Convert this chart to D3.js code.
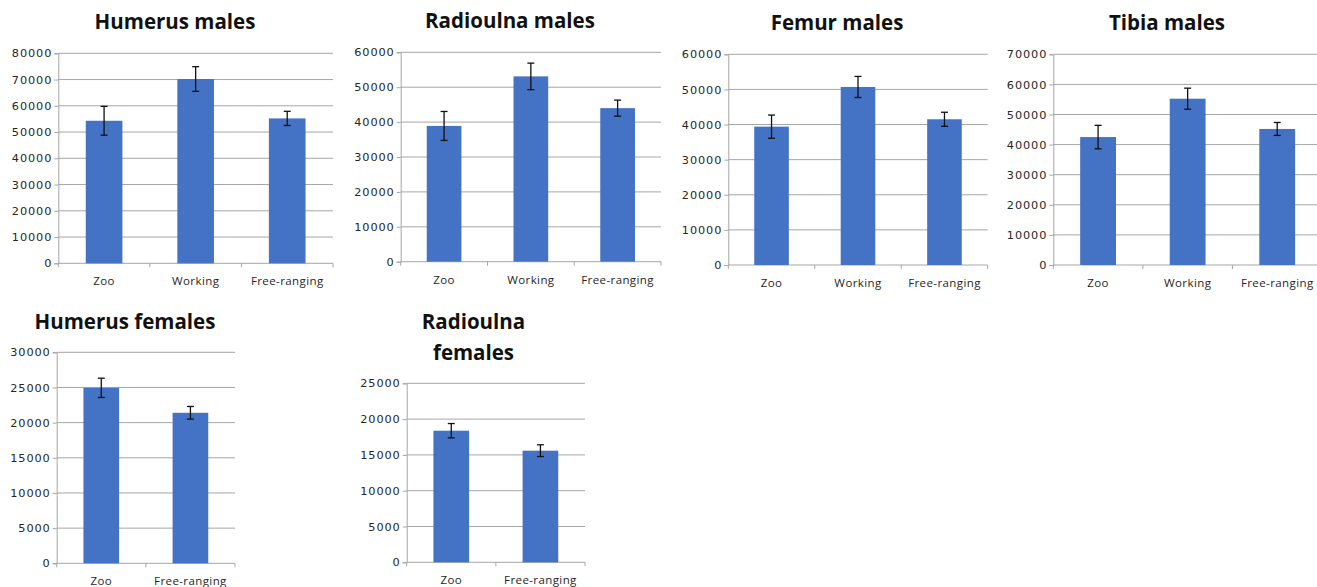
<!DOCTYPE html>
<html>
<head>
<meta charset="utf-8">
<script src="https://cdn.jsdelivr.net/npm/d3@7/dist/d3.min.js"></script>
<style>
  body { margin: 0; background: #fff; }
  .ytick { font-family: "DejaVu Sans", sans-serif; font-size: 11.3px; letter-spacing: 0.9px; fill: #262626; }
  .xtick { font-family: "Open Sans", sans-serif; font-size: 11.5px; letter-spacing: 0.4px; fill: #262626; }
  .title { font-family: "Open Sans", sans-serif; font-weight: bold; font-size: 20.5px; fill: #111; }
</style>
</head>
<body>
<div id="chart"></div>
<script>
// categories
const catMales = ["Zoo", "Working", "Free-ranging"];
const catFemales = ["Zoo", "Free-ranging"];

// means and error (+/-)
const humerusMales = [54300, 70200, 55200];
const humerusMalesErr = [5500, 4700, 2700];
const radioulnaMales = [38900, 53100, 44000];
const radioulnaMalesErr = [4150, 3800, 2300];
const femurMales = [39400, 50700, 41500];
const femurMalesErr = [3300, 3000, 2000];
const tibiaMales = [42500, 55250, 45200];
const tibiaMalesErr = [3900, 3500, 2150];
const humerusFemales = [24950, 21400];
const humerusFemalesErr = [1370, 900];
const radioulnaFemales = [18380, 15590];
const radioulnaFemalesErr = [1000, 820];

// y axis ticks
const ticks80 = d3.range(0, 80001, 10000);
const ticks60 = d3.range(0, 60001, 10000);
const ticks70 = d3.range(0, 70001, 10000);
const ticks30 = d3.range(0, 30001, 5000);
const ticks25 = d3.range(0, 25001, 5000);

const width = 1317, height = 587;

const svg = d3.select("#chart").append("svg")
  .attr("width", width)
  .attr("height", height);

// one entry per small chart
const panels = [
  { title: ["Humerus males"], cats: catMales, vals: humerusMales, err: humerusMalesErr, ticks: ticks80,
    x0: 58.3, x1: 333, y0: 263.3, y1: 53.3, tx: 175, ty: 21 },
  { title: ["Radioulna males"], cats: catMales, vals: radioulnaMales, err: radioulnaMalesErr, ticks: ticks60,
    x0: 400.7, x1: 661, y0: 261.7, y1: 52.3, tx: 510, ty: 20 },
  { title: ["Femur males"], cats: catMales, vals: femurMales, err: femurMalesErr, ticks: ticks60,
    x0: 728.3, x1: 987.7, y0: 265, y1: 54.3, tx: 837, ty: 22 },
  { title: ["Tibia males"], cats: catMales, vals: tibiaMales, err: tibiaMalesErr, ticks: ticks70,
    x0: 1053.3, x1: 1322, y0: 265, y1: 54.3, tx: 1167, ty: 22 },
  { title: ["Humerus females"], cats: catFemales, vals: humerusFemales, err: humerusFemalesErr, ticks: ticks30,
    x0: 56.7, x1: 235, y0: 563.3, y1: 352.3, tx: 125, ty: 320.5 },
  { title: ["Radioulna", "females"], cats: catFemales, vals: radioulnaFemales, err: radioulnaFemalesErr, ticks: ticks25,
    x0: 406.7, x1: 585, y0: 562.3, y1: 383.3, tx: 473.5, ty: 320.5 }
];

panels.forEach(function(p) {
  const g = svg.append("g");

  const x = d3.scaleBand()
    .domain(p.cats)
    .range([p.x0, p.x1])
    .paddingInner(0.6)
    .paddingOuter(0.3);

  const y = d3.scaleLinear()
    .domain([0, d3.max(p.ticks)])
    .range([p.y0, p.y1]);

  // grid lines
  g.append("g").selectAll("line")
    .data(p.ticks.slice(1))
    .join("line")
    .attr("x1", p.x0).attr("x2", p.x1)
    .attr("y1", d => y(d)).attr("y2", d => y(d))
    .attr("stroke", "#a6a6a6")
    .attr("stroke-width", 1);

  // y axis
  const yAxis = g.append("g")
    .attr("transform", "translate(" + p.x0 + ",0)")
    .call(d3.axisLeft(y).tickValues(p.ticks).tickSize(4).tickPadding(2).tickFormat(d3.format("d")));
  yAxis.select(".domain").attr("stroke", "#a6a6a6");
  yAxis.selectAll(".tick line").attr("stroke", "#a6a6a6");
  yAxis.selectAll(".tick text").attr("class", "ytick").attr("fill", null);
  yAxis.attr("font-size", null).attr("font-family", null);

  // x axis line + ticks between categories
  const step = x.step();
  const bounds = d3.range(p.cats.length + 1).map(i => p.x0 + i * step);
  g.append("line")
    .attr("x1", p.x0).attr("x2", p.x1)
    .attr("y1", p.y0).attr("y2", p.y0)
    .attr("stroke", "#a6a6a6");
  g.append("g").selectAll("line")
    .data(bounds)
    .join("line")
    .attr("x1", d => d).attr("x2", d => d)
    .attr("y1", p.y0).attr("y2", p.y0 + 4)
    .attr("stroke", "#a6a6a6");

  // category labels
  g.append("g").selectAll("text")
    .data(p.cats)
    .join("text")
    .attr("class", "xtick")
    .attr("x", d => x(d) + x.bandwidth() / 2)
    .attr("y", p.y0 + 22)
    .attr("text-anchor", "middle")
    .text(d => d);

  // bars
  g.append("g").selectAll("rect")
    .data(p.vals)
    .join("rect")
    .attr("x", (d, i) => x(p.cats[i]))
    .attr("width", x.bandwidth())
    .attr("y", d => y(d))
    .attr("height", d => p.y0 - y(d))
    .attr("fill", "#4472c4");

  // error bars
  const eb = g.append("g").attr("stroke", "#111").attr("stroke-width", 1.3);
  p.vals.forEach(function(v, i) {
    const cx = x(p.cats[i]) + x.bandwidth() / 2;
    const top = y(v + p.err[i]), bot = y(v - p.err[i]);
    eb.append("line").attr("x1", cx).attr("x2", cx).attr("y1", top).attr("y2", bot);
    eb.append("line").attr("x1", cx - 3.5).attr("x2", cx + 3.5).attr("y1", top).attr("y2", top);
    eb.append("line").attr("x1", cx - 3.5).attr("x2", cx + 3.5).attr("y1", bot).attr("y2", bot);
  });

  // title
  g.append("g").selectAll("text")
    .data(p.title)
    .join("text")
    .attr("class", "title")
    .attr("x", p.tx)
    .attr("y", (d, i) => p.ty + i * 31)
    .attr("text-anchor", "middle")
    .attr("dominant-baseline", "central")
    .text(d => d);
});
</script>
</body>
</html>
